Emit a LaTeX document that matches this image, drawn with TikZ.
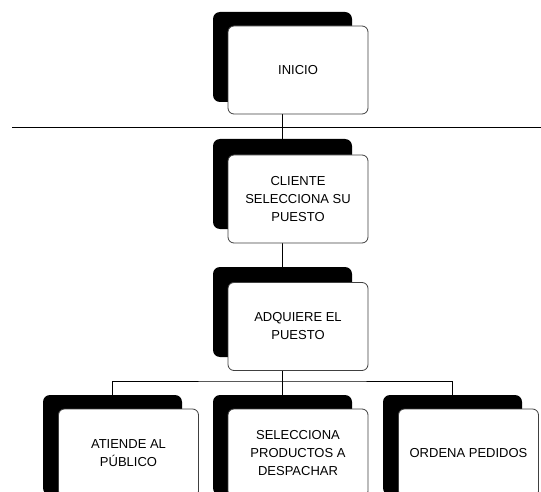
\documentclass[tikz,border=0pt]{standalone}
\usepackage{fontspec}
\setmainfont{Liberation Sans}
\usetikzlibrary{backgrounds}
\tikzset{
 shadowbox/.style={fill=black, rounded corners=7pt, minimum width=139pt, minimum height=90pt, inner sep=0pt},
 mainbox/.style={draw=black!75, fill=white, line width=0.8pt, rounded corners=6pt, minimum width=140pt, minimum height=88pt, align=center, font=\fontsize{13}{18}\selectfont, inner sep=2pt},
 link/.style={draw=black, line width=0.9pt}
}
\begin{document}
\begin{tikzpicture}[x=1pt,y=-1pt]
\useasboundingbox (0,0) rectangle (541,492);
\clip (0,0) rectangle (541,492);
% top
\node[shadowbox] (s1) at (282.5,57) {};
\node[mainbox] (b1) at (298,70) {INICIO};
\node[shadowbox] (s2) at (282.5,184) {};
\node[mainbox] (b2) at (298,199) {CLIENTE\\SELECCIONA SU\\PUESTO};
\node[shadowbox] (s3) at (282.5,312) {};
\node[mainbox] (b3) at (298,326.5) {ADQUIERE EL\\PUESTO};
% bottom row
\node[shadowbox, minimum height=100pt] (s4) at (112.5,445) {};
\node[mainbox] (b4) at (128.5,453) {ATIENDE AL\\PÚBLICO};
\node[shadowbox, minimum height=100pt] (s5) at (282.5,445) {};
\node[mainbox] (b5) at (298,453) {SELECCIONA\\PRODUCTOS A\\DESPACHAR};
\node[shadowbox, minimum height=100pt] (s6) at (452.5,445) {};
\node[mainbox] (b6) at (468.5,453) {ORDENA PEDIDOS};
\coordinate (hl) at (12,127.6);
\coordinate (hr) at (541,127.6);
\coordinate (bus) at (282.5,381);
\begin{scope}[on background layer]
\draw[link] (s1.south) -- (s2.north);
\draw[link] (hl) -- (hr);
\draw[link] (s2.south) -- (s3.north);
\draw[link] (s3.south) -- (s5.north);
\draw[link] (s4.north) |- (bus) -| (s6.north);
\end{scope}
\end{tikzpicture}
\end{document}
